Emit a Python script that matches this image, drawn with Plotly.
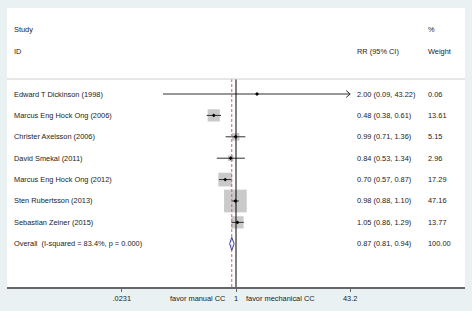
import math
import plotly.graph_objects as go

# ---- data ----
studies = ["Edward T Dickinson (1998)", "Marcus Eng Hock Ong (2006)", "Christer Axelsson (2006)",
           "David Smekal (2011)", "Marcus Eng Hock Ong (2012)", "Sten Rubertsson (2013)",
           "Sebastian Zeiner (2015)"]
rr = [2.00, 0.48, 0.99, 0.84, 0.70, 0.98, 1.05]
ci_low = [0.09, 0.38, 0.71, 0.53, 0.57, 0.88, 0.86]
ci_high = [43.22, 0.61, 1.36, 1.34, 0.87, 1.10, 1.29]
weights = [0.06, 13.61, 5.15, 2.96, 17.29, 47.16, 13.77]
overall_label = "Overall  (I-squared = 83.4%, p = 0.000)"
overall_rr, overall_low, overall_high, overall_weight = 0.87, 0.81, 0.94, 100.00
tick_vals = [0.0231, 1, 43.2]
tick_text = [".0231", "1", "43.2"]

FONT = "Liberation Sans, Arial, sans-serif"
TXT = "#222222"
FS = 7.4

n = len(studies)
rows = list(range(n))
ov_row = n
x_min, x_max = tick_vals[0], tick_vals[-1]

fig = go.Figure()

# boxes (area proportional to weight)
max_w = max(weights)
sizes = [math.sqrt(w / max_w) * 22.7 for w in weights]
fig.add_trace(go.Scatter(x=rr, y=rows, mode="markers",
                         marker=dict(symbol="square", size=sizes, color="#b4b4b4", line=dict(width=0)),
                         hoverinfo="skip", showlegend=False))

# CI lines
for i in rows:
    hi = min(ci_high[i], x_max)
    fig.add_trace(go.Scatter(x=[ci_low[i], hi], y=[i, i], mode="lines",
                             line=dict(color="#303030", width=1), hoverinfo="skip", showlegend=False))
    if ci_high[i] > x_max:
        # open arrowhead at clip point
        fig.add_trace(go.Scatter(x=[hi / 1.14, hi, hi / 1.14], y=[i - 0.16, i, i + 0.16], mode="lines",
                                 line=dict(color="#303030", width=1), hoverinfo="skip", showlegend=False))

# point estimates
fig.add_trace(go.Scatter(x=rr, y=rows, mode="markers",
                         marker=dict(symbol="diamond", size=3, color="#000000"),
                         hoverinfo="skip", showlegend=False))

# null line and overall dashed line
y_top, y_bot = -0.7, 9.02
fig.add_trace(go.Scatter(x=[1, 1], y=[y_top, y_bot], mode="lines",
                         line=dict(color="#000000", width=1), hoverinfo="skip", showlegend=False))
fig.add_trace(go.Scatter(x=[overall_rr, overall_rr], y=[y_top, y_bot], mode="lines",
                         line=dict(color="#c26464", width=1, dash="3px,2px"), hoverinfo="skip", showlegend=False))

# overall diamond
h = 0.3
fig.add_trace(go.Scatter(x=[overall_low, overall_rr, overall_high, overall_rr, overall_low],
                         y=[ov_row, ov_row - h, ov_row, ov_row + h, ov_row], mode="lines",
                         fill="toself", fillcolor="rgba(255,255,255,0.6)",
                         line=dict(color="#3c3c9c", width=1), hoverinfo="skip", showlegend=False))

# text columns
x_lab = (12 - 7) / 458
x_rr = (355 - 7) / 458
x_w = (426 - 7) / 458
ann = []

def t(x, y, s):
    ann.append(dict(x=x, y=y, xref="paper", yref="y", text=s, showarrow=False,
                    xanchor="left", yanchor="middle", font=dict(family=FONT, size=FS, color=TXT)))

t(x_lab, -3, "Study")
t(x_lab, -2, "ID")
t(x_rr, -2, "RR (95% CI)")
t(x_w, -3, "%")
t(x_w, -2, "Weight")
for i in rows:
    t(x_lab, i, studies[i])
    t(x_rr, i, f"{rr[i]:.2f} ({ci_low[i]:.2f}, {ci_high[i]:.2f})")
    t(x_w, i, f"{weights[i]:.2f}")
t(x_lab, ov_row, overall_label)
t(x_rr, ov_row, f"{overall_rr:.2f} ({overall_low:.2f}, {overall_high:.2f})")
t(x_w, ov_row, f"{overall_weight:.2f}")

# favor labels below axis
ann.append(dict(x=0, y=0, xref="x", yref="paper", yshift=-11, xshift=-8, text="favor manual CC",
                showarrow=False, xanchor="right", yanchor="middle", font=dict(family=FONT, size=FS, color=TXT)))
ann.append(dict(x=0, y=0, xref="x", yref="paper", yshift=-11, xshift=8, text="favor mechanical CC",
                showarrow=False, xanchor="left", yanchor="middle", font=dict(family=FONT, size=FS, color=TXT)))

fig.update_layout(
    width=472, height=311,
    margin=dict(l=7, r=7, t=8, b=24, pad=0),
    paper_bgcolor="#eaf1f2", plot_bgcolor="#ffffff",
    annotations=ann,
    shapes=[dict(type="line", xref="paper", yref="y", x0=0, x1=1, y0=y_top, y1=y_top,
                 line=dict(color="#cfcfcf", width=1))],
    xaxis=dict(type="log", range=[-3.28, 3.28], showgrid=False, zeroline=False,
               tickvals=tick_vals, ticktext=tick_text, ticks="outside", ticklen=3, tickcolor="#666",
               showline=True, linecolor="#666", linewidth=1.5,
               tickfont=dict(family=FONT, size=FS, color=TXT), fixedrange=True),
    yaxis=dict(range=[y_bot, y_top - 3.32], visible=False, fixedrange=True),
    showlegend=False,
)

fig.write_html("out.html", config={"displayModeBar": False},
               post_script="document.body.style.margin='0';document.body.style.overflow='hidden';")
